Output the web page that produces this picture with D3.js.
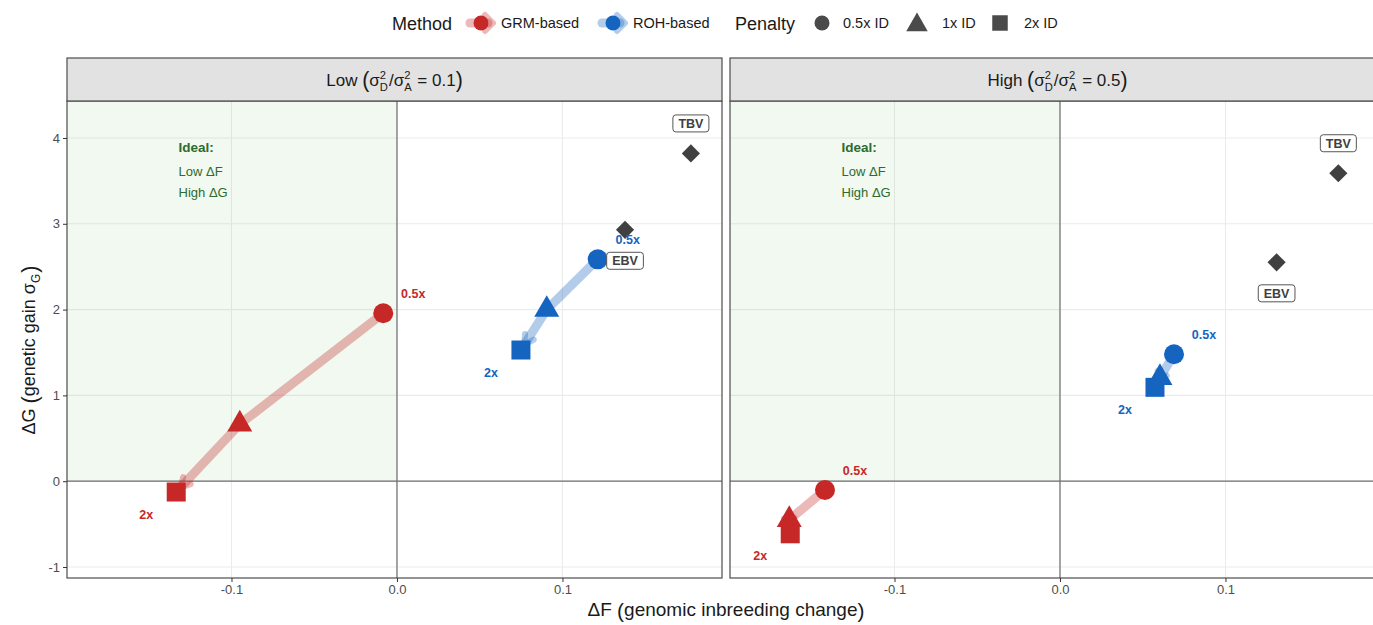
<!DOCTYPE html>
<html><head><meta charset="utf-8">
<script src="https://cdn.jsdelivr.net/npm/d3@7"></script>
<style>
body{margin:0;background:#fff}
svg{display:block;font-family:"Liberation Sans",Arial,Helvetica,sans-serif}
svg text{white-space:pre}
</style>
</head><body>
<svg id="chart" width="1373" height="625"></svg>
<script>
// ---- data -------------------------------------------------------------
const panels = ["Low", "High"];
const ratios = ["0.1", "0.5"];
const methods = ["GRM-based", "ROH-based"];
const penalties = ["0.5x", "1x", "2x"];
const penaltyNames = ["0.5x ID", "1x ID", "2x ID"];
// ΔF / ΔG for each penalty (0.5x, 1x, 2x)
const grmLowF  = [-0.0083, -0.0950, -0.1334];
const grmLowG  = [1.957, 0.664, -0.126];
const rohLowF  = [0.1213, 0.0905, 0.0749];
const rohLowG  = [2.586, 2.000, 1.529];
const grmHighF = [-0.1420, -0.1636, -0.1630];
const grmHighG = [-0.103, -0.449, -0.613];
const rohHighF = [0.0689, 0.0604, 0.0574];
const rohHighG = [1.479, 1.206, 1.094];
// benchmark selections (Low, High)
const tbvF = [0.1776, 0.1682];
const tbvG = [3.820, 3.589];
const ebvF = [0.1378, 0.1309];
const ebvG = [2.930, 2.551];
// axes
const xTicks = [-0.1, 0, 0.1];
const yTicks = [-1, 0, 1, 2, 3, 4];
const xDomain = [-0.1994, 0.1964];
const yDomain = [-1.128, 4.431];

// ---- styling / layout -------------------------------------------------
const methodColor = {"GRM-based": "#C62828", "ROH-based": "#1565C0"};
const shapeOf = {"0.5x": d3.symbolCircle, "1x": d3.symbolTriangle, "2x": d3.symbolSquare};
const sizeOf = {"0.5x": 314, "1x": 270, "2x": 361};
const greenText = "#2E6B2E";
const panelLeft = [67, 730];
const panelW = 655;
const stripTop = 58, plotTop = 101, plotBottom = 578;

const seriesByPanel = [
  [{m: "GRM-based", F: grmLowF, G: grmLowG}, {m: "ROH-based", F: rohLowF, G: rohLowG}],
  [{m: "GRM-based", F: grmHighF, G: grmHighG}, {m: "ROH-based", F: rohHighF, G: rohHighG}]
];

const svg = d3.select("#chart");
const y = d3.scaleLinear().domain(yDomain).range([plotBottom, plotTop]);

// sequential text pieces with stacked super/subscripts (plotmath style)
function mathText(g, parts, size, fill) {
  let x = 0;
  parts.forEach(p => {
    if (p.sup !== undefined) {
      const s = size * 0.66;
      const a = g.append("text").attr("x", x).attr("y", -size * 0.40).attr("font-size", s).attr("fill", fill).text(p.sup);
      const b = g.append("text").attr("x", x).attr("y", size * 0.30).attr("font-size", s).attr("fill", fill).text(p.sub);
      x += Math.max(a.node().getComputedTextLength(), b.node().getComputedTextLength()) + 1;
    } else if (p.sub !== undefined) {
      const s = size * 0.66;
      const b = g.append("text").attr("x", x).attr("y", size * 0.30).attr("font-size", s).attr("fill", fill).text(p.sub);
      x += b.node().getComputedTextLength() + 1;
    } else {
      const sc = p.scale || 1;
      const t = g.append("text").attr("x", x).attr("y", sc > 1 ? size * 0.10 : 0)
        .attr("font-size", size * sc).attr("fill", fill).text(p.t);
      x += t.node().getComputedTextLength();
    }
  });
  return x;
}

function drawArrow(g, pts, color) {
  // shorten the final leg so the head sits just before the last marker
  const n = pts.length;
  const [px, py] = pts[n - 2], [ex, ey] = pts[n - 1];
  const len = Math.hypot(ex - px, ey - py);
  const ux = (ex - px) / len, uy = (ey - py) / len;
  const tip = [ex - ux * 6, ey - uy * 6];
  const line = pts.slice(0, n - 1).concat([tip]);
  g.append("path").attr("d", d3.line()(line))
    .attr("fill", "none").attr("stroke", color).attr("stroke-opacity", 0.33)
    .attr("stroke-width", 9).attr("stroke-linecap", "round").attr("stroke-linejoin", "round");
  const ang = 28 * Math.PI / 180, L = 11;
  const arm = s => [tip[0] - L * (ux * Math.cos(ang) - s * uy * Math.sin(ang)),
                    tip[1] - L * (uy * Math.cos(ang) + s * ux * Math.sin(ang))];
  g.append("path").attr("d", d3.line()([arm(1), tip, arm(-1)]))
    .attr("fill", "none").attr("stroke", color).attr("stroke-opacity", 0.33)
    .attr("stroke-width", 6).attr("stroke-linecap", "round").attr("stroke-linejoin", "round");
}

panels.forEach((pName, pi) => {
  const L = panelLeft[pi];
  const x = d3.scaleLinear().domain(xDomain).range([L, L + panelW]);
  const g = svg.append("g");

  // panel background + grid
  g.append("rect").attr("x", L).attr("y", plotTop).attr("width", panelW).attr("height", plotBottom - plotTop).attr("fill", "#fff");
  xTicks.forEach(t => g.append("line").attr("x1", x(t)).attr("x2", x(t)).attr("y1", plotTop).attr("y2", plotBottom)
    .attr("stroke", "#ebebeb").attr("stroke-width", 1.1));
  yTicks.forEach(t => g.append("line").attr("x1", L).attr("x2", L + panelW).attr("y1", y(t)).attr("y2", y(t))
    .attr("stroke", "#ebebeb").attr("stroke-width", 1.1));

  // "ideal" quadrant: low ΔF, high ΔG
  g.append("rect").attr("x", L).attr("y", plotTop).attr("width", x(0) - L).attr("height", y(0) - plotTop)
    .attr("fill", "#4CAF50").attr("fill-opacity", 0.08);

  // reference lines at zero
  g.append("line").attr("x1", x(0)).attr("x2", x(0)).attr("y1", plotTop).attr("y2", plotBottom).attr("stroke", "#6e6e6e").attr("stroke-width", 1.2);
  g.append("line").attr("x1", L).attr("x2", L + panelW).attr("y1", y(0)).attr("y2", y(0)).attr("stroke", "#6e6e6e").attr("stroke-width", 1.2);

  // annotation
  const ix = x(-0.132);
  g.append("text").attr("x", ix).attr("y", y(3.90) + 5).attr("font-size", 13.5).attr("font-weight", "bold").attr("fill", greenText).text("Ideal:");
  g.append("text").attr("x", ix).attr("y", y(3.61) + 4.5).attr("font-size", 13).attr("fill", greenText).text("Low ΔF");
  g.append("text").attr("x", ix).attr("y", y(3.37) + 4.5).attr("font-size", 13).attr("fill", greenText).text("High ΔG");

  // trajectories
  const series = seriesByPanel[pi];
  series.forEach(s => drawArrow(g, s.F.map((f, i) => [x(f), y(s.G[i])]), methodColor[s.m]));

  // markers
  series.forEach(s => {
    penalties.forEach((p, i) => {
      g.append("path").attr("d", d3.symbol().type(shapeOf[p]).size(sizeOf[p])())
        .attr("transform", `translate(${x(s.F[i])},${y(s.G[i])})`).attr("fill", methodColor[s.m]);
    });
  });

  // benchmark diamonds
  [[tbvF[pi], tbvG[pi]], [ebvF[pi], ebvG[pi]]].forEach(([f, v]) => {
    g.append("path").attr("d", d3.symbol().type(d3.symbolSquare).size(165)())
      .attr("transform", `translate(${x(f)},${y(v)}) rotate(45)`).attr("fill", "#404040");
  });

  // penalty labels at the ends of each trajectory
  series.forEach(s => {
    [[0, 30, -20, "0.5x"], [2, -30, 22, "2x"]].forEach(([i, dx, dy, t]) => {
      g.append("text").attr("x", x(s.F[i]) + dx).attr("y", y(s.G[i]) + dy + 4.5)
        .attr("text-anchor", "middle").attr("font-size", 12.5).attr("font-weight", "bold")
        .attr("fill", methodColor[s.m]).text(t);
    });
  });

  // boxed benchmark labels
  [[tbvF[pi], tbvG[pi], -30, "TBV"], [ebvF[pi], ebvG[pi], 31, "EBV"]].forEach(([f, v, dy, t]) => {
    const cx = x(f), cy = y(v) + dy;
    const lg = g.append("g");
    const rect = lg.append("rect").attr("fill", "#fff").attr("stroke", "#555").attr("stroke-width", 1).attr("rx", 3);
    const txt = lg.append("text").attr("x", cx).attr("y", cy + 4.5).attr("text-anchor", "middle")
      .attr("font-size", 12.5).attr("font-weight", "bold").attr("fill", "#404040").text(t);
    const w = txt.node().getComputedTextLength() + 11;
    rect.attr("x", cx - w / 2).attr("y", cy - 8.5).attr("width", w).attr("height", 17);
  });

  // panel border
  g.append("rect").attr("x", L).attr("y", plotTop).attr("width", panelW).attr("height", plotBottom - plotTop)
    .attr("fill", "none").attr("stroke", "#4d4d4d").attr("stroke-width", 1.2);

  // strip
  g.append("rect").attr("x", L).attr("y", stripTop).attr("width", panelW).attr("height", plotTop - stripTop)
    .attr("fill", "#e2e2e2").attr("stroke", "#4d4d4d").attr("stroke-width", 1.2);
  const sg = g.append("g");
  const sw = mathText(sg, [{t: pName + " "}, {t: "(", scale: 1.25}, {t: "σ"}, {sup: "2", sub: "D"}, {t: "/σ"},
    {sup: "2", sub: "A"}, {t: " = " + ratios[pi]}, {t: ")", scale: 1.25}], 17, "#1a1a1a");
  sg.attr("transform", `translate(${L + panelW / 2 - sw / 2},${(stripTop + plotTop) / 2 + 6})`);

  // x axis
  const xa = svg.append("g").attr("transform", `translate(0,${plotBottom})`)
    .call(d3.axisBottom(x).tickValues(xTicks).tickSize(4).tickPadding(3).tickFormat(d => d.toFixed(1)));
  xa.select(".domain").remove();
  xa.selectAll(".tick line").attr("stroke", "#333");
  xa.selectAll(".tick text").attr("font-size", 13).attr("fill", "#4d4d4d").attr("font-family", null);

  if (pi === 0) {
    const ya = svg.append("g").attr("transform", `translate(${L},0)`)
      .call(d3.axisLeft(y).tickValues(yTicks).tickSize(4).tickPadding(3).tickFormat(d => String(d)));
    ya.select(".domain").remove();
    ya.selectAll(".tick line").attr("stroke", "#333");
    ya.selectAll(".tick text").attr("font-size", 13).attr("fill", "#4d4d4d").attr("font-family", null);
  }
});

// axis titles
const xt = svg.append("g");
const xw = mathText(xt, [{t: "ΔF "}, {t: "(", scale: 1.1}, {t: "genomic inbreeding change"}, {t: ")", scale: 1.1}], 19, "#1a1a1a");
xt.attr("transform", `translate(${726 - xw / 2},616)`);
const yt = svg.append("g");
const yw = mathText(yt, [{t: "ΔG "}, {t: "(", scale: 1.2}, {t: "genetic gain σ"}, {sub: "G"}, {t: ")", scale: 1.2}], 18, "#1a1a1a");
yt.attr("transform", `translate(35,${350 + yw / 2}) rotate(-90)`);

// legend
const lg = svg.append("g");
const ly = 23;
lg.append("text").attr("x", 392).attr("y", ly + 6.5).attr("font-size", 18).attr("fill", "#1a1a1a").text("Method");
[[methods[0], 481, 501], [methods[1], 613, 633]].forEach(([m, cx, tx]) => {
  const c = methodColor[m];
  lg.append("line").attr("x1", cx - 11).attr("x2", cx + 7).attr("y1", ly).attr("y2", ly)
    .attr("stroke", c).attr("stroke-opacity", 0.33).attr("stroke-width", 9).attr("stroke-linecap", "round");
  lg.append("path").attr("d", d3.line()([[cx + 4, ly - 8], [cx + 12, ly], [cx + 4, ly + 8]]))
    .attr("fill", "none").attr("stroke", c).attr("stroke-opacity", 0.33).attr("stroke-width", 6)
    .attr("stroke-linecap", "round").attr("stroke-linejoin", "round");
  lg.append("circle").attr("cx", cx).attr("cy", ly).attr("r", 7.5).attr("fill", c);
  lg.append("text").attr("x", tx).attr("y", ly + 5).attr("font-size", 14.5).attr("fill", "#1a1a1a").text(m);
});
lg.append("text").attr("x", 735).attr("y", ly + 6.5).attr("font-size", 18).attr("fill", "#1a1a1a").text("Penalty");
const legendSize = {"0.5x": 177, "1x": 200, "2x": 240};
[[822, 843], [917, 942], [1000, 1024]].forEach(([cx, tx], i) => {
  const p = penalties[i];
  lg.append("path").attr("d", d3.symbol().type(shapeOf[p]).size(legendSize[p])())
    .attr("transform", `translate(${cx},${ly + (p === "1x" ? 2 : 0)})`).attr("fill", "#4a4a4a");
  lg.append("text").attr("x", tx).attr("y", ly + 5).attr("font-size", 14.5).attr("fill", "#1a1a1a").text(penaltyNames[i]);
});
</script>
</body></html>
